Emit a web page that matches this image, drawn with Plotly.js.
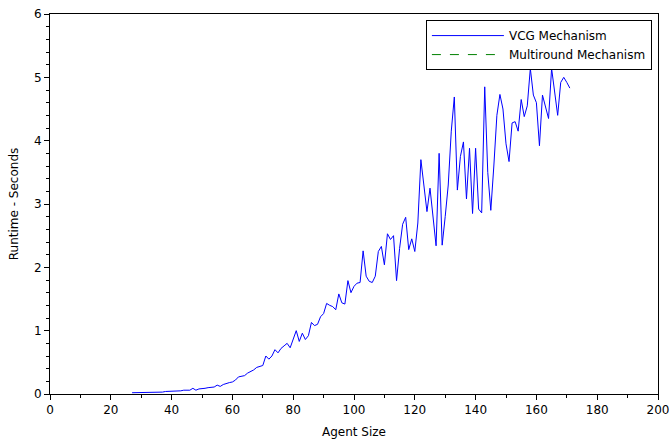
<!DOCTYPE html>
<html>
<head>
<meta charset="utf-8">
<script src="https://cdn.plot.ly/plotly-3.0.1.min.js"></script>
<style>html,body{margin:0;padding:0;background:#fff;}#chart{width:672px;height:441px;}</style>
</head>
<body>
<div id="chart"></div>
<script>
// Agent sizes 27..171
var agentStart = 27;
var vcgRuntime = [
  0.02,0.02,0.02,0.02,0.02,0.02,0.02,0.02,0.02,0.02,0.03,
  0.04,0.04,0.04,0.04,0.04,0.05,0.06,0.06,0.06,0.09,0.06,0.08,0.08,0.09,0.10,0.10,0.11,0.14,0.12,0.15,0.17,0.18,0.19,
  0.22,0.27,0.28,0.29,0.33,0.35,0.38,0.42,0.44,0.45,
  0.60,0.55,0.60,0.70,0.65,0.72,0.76,0.80,0.73,0.86,
  1.00,0.83,0.96,0.86,0.92,1.13,1.08,1.10,1.22,1.27,
  1.43,1.40,1.38,1.33,1.58,1.44,1.42,1.79,1.60,1.70,
  1.75,1.76,2.26,1.86,1.78,1.76,1.86,2.25,2.33,2.04,
  2.53,2.44,2.50,1.79,2.30,2.68,2.79,2.28,2.45,2.25,
  2.70,3.70,3.30,2.88,3.25,2.75,2.34,3.80,2.35,2.80,
  3.30,4.15,4.69,3.22,3.75,3.98,3.08,3.88,2.85,3.88,
  2.92,2.86,4.85,3.50,2.90,3.60,4.40,4.73,4.50,3.95,
  3.67,4.28,4.30,4.15,4.65,4.38,4.55,5.14,4.72,4.60,
  3.92,4.72,4.55,4.35,5.14,4.80,4.40,4.92,5.00,4.92,4.83
];
var agentSize = [];
for (var i = 0; i < vcgRuntime.length; i++) agentSize.push(agentStart + i);
// Multiround series: no visible values in the reference
var multiroundSize = [null];
var multiroundRuntime = [null];

var xTicks = [0,20,40,60,80,100,120,140,160,180,200];
var yTicks = [0,1,2,3,4,5,6];

var font = {family: 'DejaVu Sans, sans-serif', size: 12, color: '#000'};

var traces = [
  {x: agentSize, y: vcgRuntime, type: 'scatter', mode: 'lines', name: 'VCG Mechanism',
   line: {color: '#0000ff', width: 1}},
  {x: multiroundSize, y: multiroundRuntime, type: 'scatter', mode: 'lines', name: 'Multiround Mechanism',
   line: {color: '#008000', width: 1, dash: 'dash'}}
];

var layout = {
  width: 672, height: 441,
  margin: {l: 50, r: 14, t: 14, b: 47},
  paper_bgcolor: '#fff', plot_bgcolor: '#fff',
  font: font,
  showlegend: true,
  xaxis: {
    range: [0, 200], tickvals: xTicks, ticktext: xTicks.map(String),
    ticks: 'outside', ticklen: 5, tickcolor: '#000', tickwidth: 1,
    minor: {dtick: 10, tick0: 0, ticks: 'outside', ticklen: 3, tickcolor: '#000'},
    showline: true, linecolor: '#000', linewidth: 1, mirror: true,
    showgrid: false, zeroline: false,
    tickfont: {family: font.family, size: 12, color: '#000'},
    title: {text: 'Agent Size', font: font, standoff: 11}
  },
  yaxis: {
    range: [0, 6], tickvals: yTicks, ticktext: yTicks.map(String),
    ticks: 'outside', ticklen: 5, tickcolor: '#000', tickwidth: 1,
    minor: {dtick: 0.2, tick0: 0, ticks: 'outside', ticklen: 3, tickcolor: '#000'},
    showline: true, linecolor: '#000', linewidth: 1, mirror: true,
    showgrid: false, zeroline: false,
    tickfont: {family: font.family, size: 12, color: '#000'},
    title: {text: 'Runtime - Seconds', font: font, standoff: 12}
  },
  legend: {
    x: 0.99, y: 0.984, xanchor: 'right', yanchor: 'top',
    bgcolor: '#fff', bordercolor: '#000', borderwidth: 1,
    font: {family: font.family, size: 12, color: '#000'},
    itemwidth: 72, tracegroupgap: 0
  }
};

Plotly.newPlot('chart', traces, layout, {staticPlot: true, displayModeBar: false});
</script>
</body>
</html>
